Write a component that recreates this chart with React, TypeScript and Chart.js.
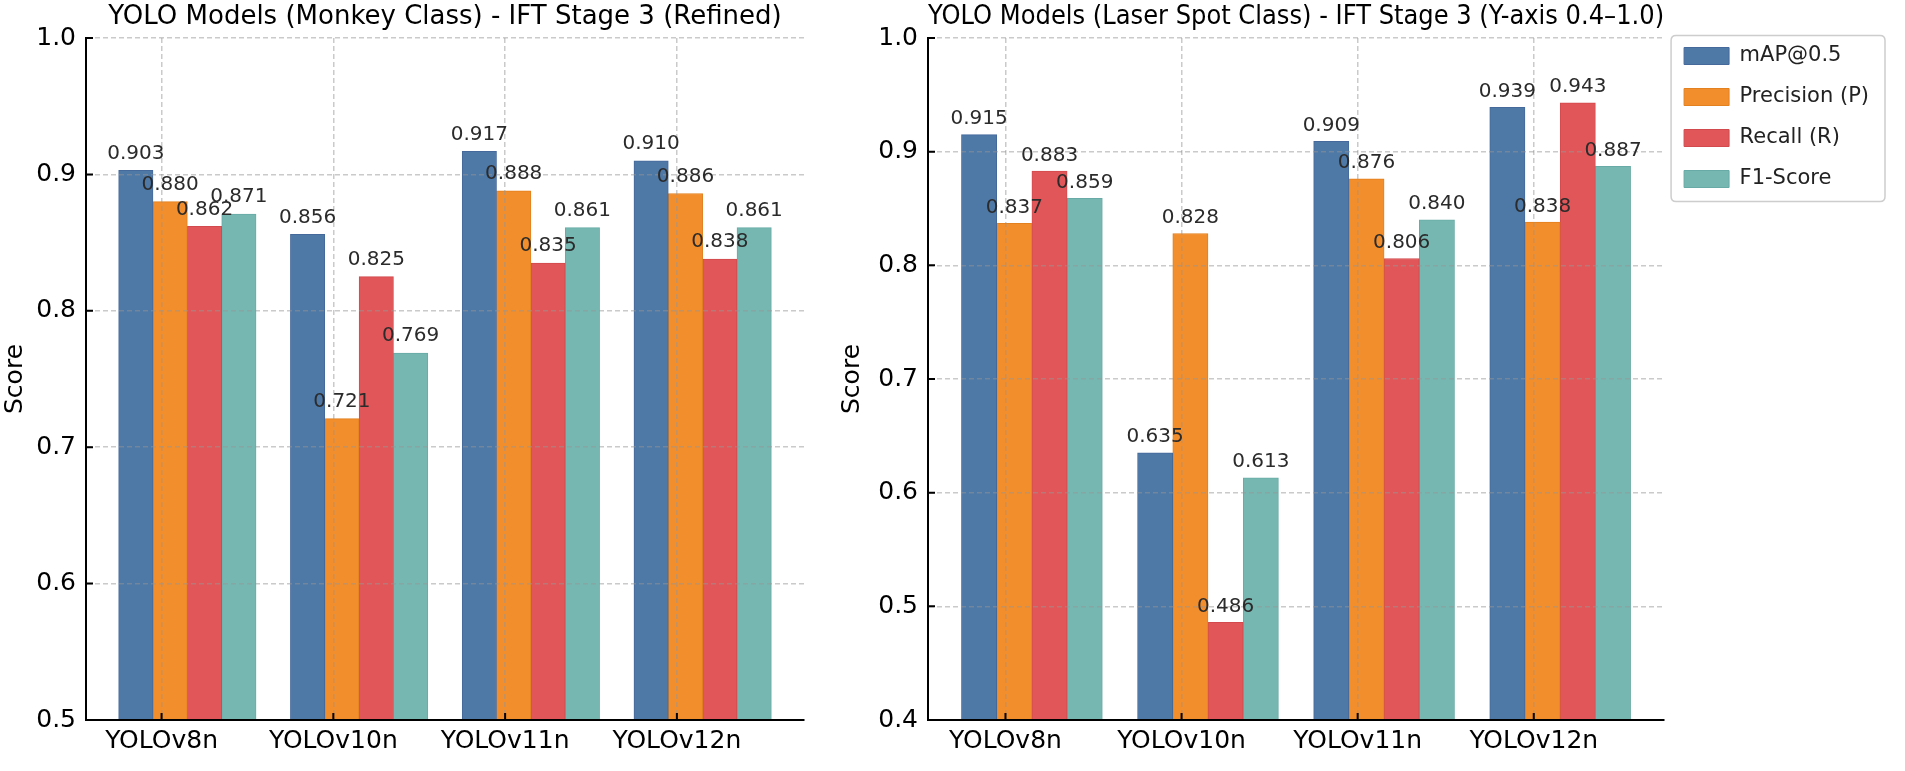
import React, { useEffect, useRef } from 'react';
import { Chart, registerables } from 'chart.js';

Chart.register(...registerables);

// ---------------- data ----------------
const categories = ['YOLOv8n', 'YOLOv10n', 'YOLOv11n', 'YOLOv12n'];
const seriesNames = ['mAP@0.5', 'Precision (P)', 'Recall (R)', 'F1-Score'];

const monkeyMap = [0.903, 0.856, 0.917, 0.91];
const monkeyPrecision = [0.88, 0.721, 0.888, 0.886];
const monkeyRecall = [0.862, 0.825, 0.835, 0.838];
const monkeyF1 = [0.871, 0.769, 0.861, 0.861];

const laserMap = [0.915, 0.635, 0.909, 0.939];
const laserPrecision = [0.837, 0.828, 0.876, 0.838];
const laserRecall = [0.883, 0.486, 0.806, 0.943];
const laserF1 = [0.859, 0.613, 0.84, 0.887];

const monkeyYTicks = [0.5, 0.6, 0.7, 0.8, 0.9, 1.0];
const laserYTicks = [0.4, 0.5, 0.6, 0.7, 0.8, 0.9, 1.0];

const monkeyTitle = 'YOLO Models (Monkey Class) - IFT Stage 3 (Refined)';
const laserTitle = 'YOLO Models (Laser Spot Class) - IFT Stage 3 (Y-axis 0.4\u20131.0)';
const yAxisTitle = 'Score';

// ---------------- style ----------------
const FONT = '"DejaVu Sans", "Liberation Sans", sans-serif';
const colors = ['#4E79A7', '#F28E2B', '#E15759', '#76B7B2'];
const edgeColors = ['#44699a', '#e3801f', '#d24a4d', '#68aaa5'];
const barOffsets = [-0.15, 0.05, 0.25, 0.45];

Chart.defaults.font.family = FONT;

type Cfg = {
  title: string;
  series: number[][];
  yMin: number;
  yMax: number;
  yTicks: number[];
  showLegend: boolean;
  yAxisWidth: number;
  padding: { left: number; right: number; top: number; bottom: number };
};

const valueLabels = {
  id: 'valueLabels',
  afterDraw(chart: any) {
    const ctx = chart.ctx;
    const ys = chart.scales.y;
    ctx.save();
    ctx.font = `20px ${FONT}`;
    ctx.fillStyle = '#2b2b2b';
    ctx.textAlign = 'center';
    ctx.textBaseline = 'bottom';
    chart.data.datasets.forEach((ds: any, k: number) => {
      const meta = chart.getDatasetMeta(k);
      meta.data.forEach((el: any, i: number) => {
        const v = ds.data[i].y;
        ctx.fillText(v.toFixed(3), el.x, ys.getPixelForValue(v + 0.005));
      });
    });
    ctx.restore();
  },
};

const inwardTicks = {
  id: 'inwardTicks',
  afterDraw(chart: any) {
    const { ctx, chartArea } = chart;
    const xs = chart.scales.x;
    const ys = chart.scales.y;
    ctx.save();
    ctx.strokeStyle = '#000';
    ctx.lineWidth = 2;
    ctx.beginPath();
    xs.ticks.forEach((t: any) => {
      const px = xs.getPixelForValue(t.value);
      ctx.moveTo(px, chartArea.bottom);
      ctx.lineTo(px, chartArea.bottom - 7);
    });
    ys.ticks.forEach((t: any) => {
      const py = ys.getPixelForValue(t.value);
      ctx.moveTo(chartArea.left, py);
      ctx.lineTo(chartArea.left + 7, py);
    });
    ctx.stroke();
    ctx.restore();
  },
};

const legendFrame = {
  id: 'legendFrame',
  afterDraw(chart: any) {
    const lg = chart.legend;
    if (!lg || !lg.options.display) return;
    const hb = lg.legendHitBoxes;
    if (!hb || !hb.length) return;
    const ctx = chart.ctx;
    const x0 = hb[0].left - 13;
    let x1 = 0;
    hb.forEach((h: any) => (x1 = Math.max(x1, h.left + h.width)));
    x1 += 16;
    const y0 = hb[0].top - 10;
    const last = hb[hb.length - 1];
    const y1 = last.top + last.height + 12;
    const r = 5;
    ctx.save();
    ctx.strokeStyle = 'rgba(200,200,200,0.9)';
    ctx.lineWidth = 1.5;
    ctx.beginPath();
    ctx.moveTo(x0 + r, y0);
    ctx.lineTo(x1 - r, y0);
    ctx.quadraticCurveTo(x1, y0, x1, y0 + r);
    ctx.lineTo(x1, y1 - r);
    ctx.quadraticCurveTo(x1, y1, x1 - r, y1);
    ctx.lineTo(x0 + r, y1);
    ctx.quadraticCurveTo(x0, y1, x0, y1 - r);
    ctx.lineTo(x0, y0 + r);
    ctx.quadraticCurveTo(x0, y0, x0 + r, y0);
    ctx.stroke();
    ctx.restore();
  },
};

function makeConfig(c: Cfg): any {
  const datasets = c.series.map((vals, k) => ({
    label: seriesNames[k],
    data: vals.map((v, i) => ({ x: i + barOffsets[k], y: v })),
    backgroundColor: colors[k],
    borderColor: edgeColors[k],
    borderWidth: 1,
    grouped: false,
    categoryPercentage: 1,
    barPercentage: 1,
    base: c.yMin,
  }));
  const gridColor = 'rgba(150,150,150,0.5)';
  return {
    type: 'bar',
    data: { datasets },
    options: {
      animation: false,
      responsive: false,
      devicePixelRatio: 1,
      layout: { padding: c.padding },
      plugins: {
        title: {
          display: true,
          text: c.title,
          fullSize: false,
          color: '#000',
          font: { size: 26, weight: 'normal', family: FONT, lineHeight: 1.2 },
          padding: { top: 2, bottom: 4.8 },
        },
        legend: {
          display: c.showLegend,
          position: 'right',
          align: 'start',
          fullSize: true,
          title: {
            display: true,
            text: '',
            font: { size: 1, lineHeight: 1 },
            padding: { top: 24.5, bottom: 0 },
          },
          labels: {
            boxWidth: 45,
            boxHeight: 17,
            padding: 20,
            color: '#222',
            font: { size: 21, family: FONT },
          },
        },
        tooltip: { enabled: false },
      },
      scales: {
        x: {
          type: 'linear',
          min: -0.44,
          max: 3.74,
          offset: false,
          afterBuildTicks: (scale: any) => {
            scale.ticks = categories.map((_, i) => ({ value: i }));
          },
          afterFit: (scale: any) => {
            scale.height = 51;
          },
          ticks: {
            color: '#000',
            font: { size: 25, family: FONT },
            padding: 6,
            maxRotation: 0,
            autoSkip: false,
            callback: (_v: any, i: number) => categories[i],
          },
          grid: {
            display: true,
            offset: false,
            color: gridColor,
            lineWidth: 1.5,
            drawTicks: false,
            z: 1,
          },
          border: { display: true, color: '#000', width: 2, dash: [5, 3], z: 2 },
        },
        y: {
          type: 'linear',
          min: c.yMin,
          max: c.yMax,
          afterBuildTicks: (scale: any) => {
            scale.ticks = c.yTicks.map((v) => ({ value: v }));
          },
          afterFit: (scale: any) => {
            scale.width = c.yAxisWidth;
          },
          ticks: {
            color: '#000',
            font: { size: 25, family: FONT },
            padding: 10,
            callback: (v: any) => Number(v).toFixed(1),
          },
          title: {
            display: true,
            text: yAxisTitle,
            color: '#000',
            font: { size: 25, family: FONT, lineHeight: 1.2 },
            padding: { top: 0, bottom: 0 },
          },
          grid: {
            display: true,
            color: gridColor,
            lineWidth: 1.5,
            drawTicks: false,
            z: 1,
          },
          border: { display: true, color: '#000', width: 2, dash: [5, 3], z: 2 },
        },
      },
    },
    plugins: [legendFrame, valueLabels, inwardTicks],
  };
}

function ChartCanvas({ cfg, width, height, left }: { cfg: Cfg; width: number; height: number; left: number }) {
  const ref = useRef<HTMLCanvasElement | null>(null);
  useEffect(() => {
    if (!ref.current) return;
    const chart = new Chart(ref.current, makeConfig(cfg));
    return () => chart.destroy();
  }, []);
  return (
    <canvas
      ref={ref}
      width={width}
      height={height}
      style={{ position: 'absolute', left, top: 0, width, height }}
    />
  );
}

const monkeyCfg: Cfg = {
  title: monkeyTitle,
  series: [monkeyMap, monkeyPrecision, monkeyRecall, monkeyF1],
  yMin: 0.5,
  yMax: 1.0,
  yTicks: monkeyYTicks,
  showLegend: false,
  yAxisWidth: 86,
  padding: { left: 0, right: 26, top: 0, bottom: 0 },
};

const laserCfg: Cfg = {
  title: laserTitle,
  series: [laserMap, laserPrecision, laserRecall, laserF1],
  yMin: 0.4,
  yMax: 1.0,
  yTicks: laserYTicks,
  showLegend: true,
  yAxisWidth: 91,
  padding: { left: 7, right: 26, top: 0, bottom: 0 },
};

export default function App() {
  return (
    <div
      style={{
        position: 'absolute',
        left: 0,
        top: 0,
        width: 1905,
        height: 771,
        background: '#fff',
        overflow: 'hidden',
      }}
    >
      <ChartCanvas cfg={monkeyCfg} width={830} height={771} left={0} />
      <ChartCanvas cfg={laserCfg} width={1075} height={771} left={830} />
    </div>
  );
}
